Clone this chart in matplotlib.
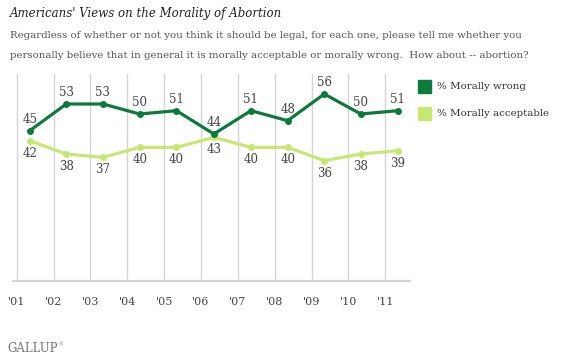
import numpy as np
import pandas as pd
import matplotlib
matplotlib.use("Agg")
import matplotlib.pyplot as plt
from matplotlib.patches import Rectangle

# survey field dates (Gallup Values and Beliefs, May each year)
survey_dates = ["2001-05-10", "2002-05-06", "2003-05-05", "2004-05-02", "2005-05-02",
                "2006-05-08", "2007-05-10", "2008-05-08", "2009-05-07", "2010-05-03",
                "2011-05-05"]
morally_wrong = [45, 53, 53, 50, 51, 44, 51, 48, 56, 50, 51]
morally_acceptable = [42, 38, 37, 40, 40, 43, 40, 40, 36, 38, 39]
year_ticks = list(range(2001, 2012))
year_labels = ["'01", "'02", "'03", "'04", "'05", "'06", "'07", "'08", "'09", "'10", "'11"]

d = pd.to_datetime(survey_dates)
x = d.year + (d.dayofyear - 1) / 365.0

dark = "#0b7a3b"
light = "#c6e873"
grid = "#d4d4d4"
serif = "DejaVu Serif"

fig = plt.figure(figsize=(5.64, 3.58), dpi=100)
W, H = 564.0, 358.0
ax = fig.add_axes([12.7 / W, 1 - 280.7 / H, (410 - 12.7) / W, (280.7 - 74) / H])

ax.set_xlim(2000.89, 2011.67)
ax.set_ylim(0, 62)

for yr in year_ticks:
    ax.axvline(yr, color=grid, lw=1, zorder=0)

for s in ["top", "right", "left"]:
    ax.spines[s].set_visible(False)
ax.spines["bottom"].set_color(grid)
ax.spines["bottom"].set_linewidth(1.6)
ax.set_yticks([])
ax.set_xticks(year_ticks)
ax.set_xticklabels(year_labels, fontfamily=serif, fontsize=8, color="#444444")
ax.tick_params(axis="x", length=0, pad=12)

ax.plot(x, morally_acceptable, color=light, lw=2.3, marker="o", ms=4, zorder=2)
ax.plot(x, morally_wrong, color=dark, lw=2.3, marker="o", ms=4, zorder=3)

for xi, v in zip(x, morally_wrong):
    ax.annotate(str(v), (xi, v), xytext=(0, 8), textcoords="offset points",
                ha="center", va="center", fontfamily=serif, fontsize=8.5, color="#444444")
for xi, v in zip(x, morally_acceptable):
    ax.annotate(str(v), (xi, v), xytext=(0, -9), textcoords="offset points",
                ha="center", va="center", fontfamily=serif, fontsize=8.5, color="#444444")

# title and question text
fig.text(10 / W, 1 - 14 / H, "Americans' Views on the Morality of Abortion",
         fontfamily=serif, style="italic", fontsize=8.5, color="#222222", va="center")
fig.text(10 / W, 1 - 36 / H,
         "Regardless of whether or not you think it should be legal, for each one, please tell me whether you",
         fontfamily=serif, fontsize=7.35, color="#555555", va="center")
fig.text(10 / W, 1 - 55 / H,
         "personally believe that in general it is morally acceptable or morally wrong.  How about -- abortion?",
         fontfamily=serif, fontsize=7.35, color="#555555", va="center")

# legend
for yc, col, lab in [(86.5, dark, "% Morally wrong"), (113.5, light, "% Morally acceptable")]:
    fig.add_artist(Rectangle((418 / W, 1 - (yc + 6.5) / H), 13 / W, 13 / H,
                             transform=fig.transFigure, color=col))
    fig.text(437 / W, 1 - yc / H, lab, fontfamily=serif, fontsize=7.4,
             color="#333333", va="center")

fig.text(7 / W, 1 - 348 / H, "GALLUP", fontfamily=serif, fontsize=8.5,
         color="#777777", va="center")
fig.text(58 / W, 1 - 345 / H, "\u00ae", fontfamily=serif, fontsize=3.5,
         color="#777777", va="center")

fig.savefig("out.png", dpi=100)
